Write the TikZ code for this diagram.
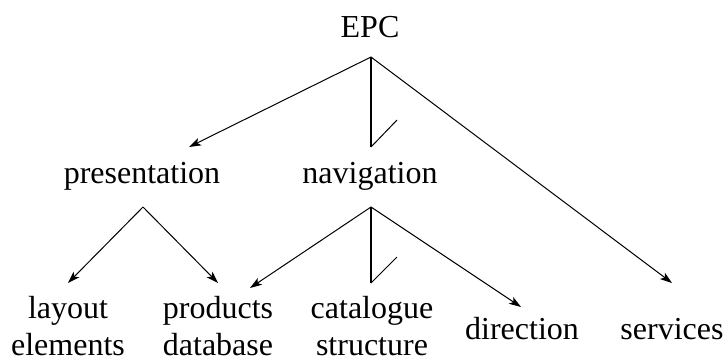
\documentclass[tikz,border=0pt]{standalone}
\usepackage{fontspec}
\setmainfont{Liberation Serif}
\usetikzlibrary{arrows.meta}
\begin{document}
\begin{tikzpicture}[x=0.5pt,y=-0.5pt,
  lbl/.style={inner sep=0pt,anchor=base,font=\fontsize{16}{18.5}\selectfont,align=center},
  conn/.style={line width=0.5pt},
  arr/.style={conn,-{Stealth[length=6pt,width=4pt,inset=1.5pt]}},
  stem/.style={line width=1pt},
  barb/.style={line width=0.5pt}]
\useasboundingbox (0,0) rectangle (726,360);
\node[lbl] (epc) at (370,37) {EPC};
\node[lbl] (pres) at (142,183) {presentation};
\node[lbl] (nav) at (370,183) {navigation};
\node[lbl] (lay) at (68,355) {layout\\elements};
\node[lbl] (prod) at (218,355) {products\\database};
\node[lbl] (cat) at (372,355) {catalogue\\structure};
\node[lbl] (dir) at (522,339) {direction};
\node[lbl] (serv) at (672,339) {services};
% apexes and tips
\coordinate (epcA) at (371,57);
\coordinate (presA) at (143,207);
\coordinate (navA) at (371,207);
\coordinate (presT) at (189,147);
\coordinate (navT) at (371,147);
\coordinate (navB) at (397,120);
\coordinate (servT) at (672,283);
\coordinate (layT) at (68,283);
\coordinate (prodT1) at (218,283);
\coordinate (prodT2) at (250,288);
\coordinate (catT) at (371,283);
\coordinate (catB) at (397,257);
\coordinate (dirT) at (521,307);
\draw[arr] (epcA) -- (presT);
\draw[stem] (epcA) -- (navT);
\draw[barb] (navT) -- (navB);
\draw[arr] (epcA) -- (servT);
\draw[arr] (presA) -- (layT);
\draw[arr] (presA) -- (prodT1);
\draw[arr] (navA) -- (prodT2);
\draw[stem] (navA) -- (catT);
\draw[barb] (catT) -- (catB);
\draw[arr] (navA) -- (dirT);
\end{tikzpicture}
\end{document}
